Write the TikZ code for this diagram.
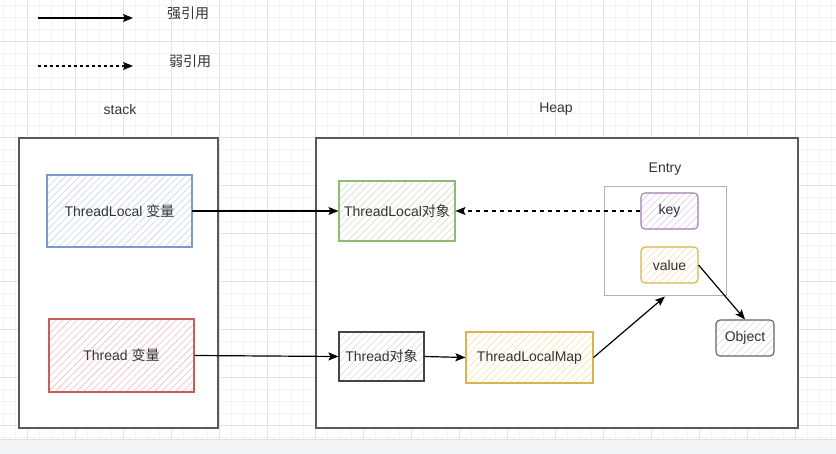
\documentclass[tikz,border=0pt]{standalone}
\usepackage{fontspec}
\setmainfont{Liberation Sans}
\newfontfamily\cjk{Noto Sans CJK SC}
\usepackage{tikz}
\usetikzlibrary{arrows.meta,patterns.meta}
\definecolor{txt}{HTML}{333333}
\definecolor{gridmin}{HTML}{F3F3F3}
\definecolor{gridmaj}{HTML}{E4E4E4}
\definecolor{band}{HTML}{F4F5F7}
\definecolor{bluedge}{HTML}{7A9BCB}
\definecolor{bluhatch}{HTML}{C3D4EF}
\definecolor{rededge}{HTML}{C0605C}
\definecolor{redhatch}{HTML}{F2BDBB}
\definecolor{grnedge}{HTML}{8DBB72}
\definecolor{grnhatch}{HTML}{CFE3C2}
\definecolor{puredge}{HTML}{A07DB0}
\definecolor{purhatch}{HTML}{DCCDE4}
\definecolor{yeledge}{HTML}{D8B44A}
\definecolor{yelhatch}{HTML}{F6E3AE}
\definecolor{gryedge}{HTML}{444444}
\definecolor{gryhatch}{HTML}{DDDDDD}

\begin{document}
\begin{tikzpicture}[x=1pt,y=-1pt,>={Stealth[length=10pt,width=8pt,inset=2pt]},
  every node/.style={font=\fontsize{14}{16}\selectfont,text=txt,inner sep=0pt},
  hatch/.style={pattern={Lines[angle=45,distance=5pt,line width=0.6pt]},pattern color=#1},
  box/.style={draw=#1,line width=1.1pt},
  region/.style={draw=black!65,line width=1.3pt,fill=white},
  link/.style={->,line width=1.2pt,black}]
\useasboundingbox (0,0) rectangle (836,454);
% griglia di sfondo
\foreach \x in {3,15,...,831} \draw[gridmin,line width=0.6pt] (\x,0) -- (\x,439);
\foreach \y in {5,17,...,437} \draw[gridmin,line width=0.6pt] (0,\y) -- (836,\y);
\foreach \x in {27,75,...,795} \draw[gridmaj,line width=0.7pt] (\x,0) -- (\x,439);
\foreach \y in {41,89,...,425} \draw[gridmaj,line width=0.7pt] (0,\y) -- (836,\y);
\fill[band] (0,439) rectangle (836,454);
\draw[black!12,line width=0.8pt] (0,439) -- (836,439);

% legenda
\coordinate (sa) at (38,18);
\coordinate (sb) at (133,18);
\draw[link] (sa) -- (sb);
\node (strong) at (188,13) {\cjk 强引用};
\coordinate (wa) at (38,66);
\coordinate (wb) at (133,66);
\draw[link,dash pattern=on 3pt off 3pt] (wa) -- (wb);
\node (weak) at (190,61) {\cjk 弱引用};

% stack e heap
\node (stacklbl) at (120,109) {stack};
\node (heaplbl) at (556,109) {Heap};
\node[region,minimum width=199,minimum height=290] (stack) at (118.5,283) {};
\node[region,minimum width=482,minimum height=290] (heap) at (557,283) {};

% variabili sullo stack
\node[box=bluedge,hatch=bluhatch,minimum width=145,minimum height=72] (tlvar) at (119.5,211) {ThreadLocal {\cjk 变量}};
\node[box=rededge,hatch=redhatch,minimum width=145,minimum height=73] (thvar) at (121.5,355.5) {Thread {\cjk 变量}};

% oggetti sullo heap
\node[box=grnedge,hatch=grnhatch,minimum width=116,minimum height=60] (tlobj) at (397,211) {ThreadLocal{\cjk 对象}};
\node[box=gryedge,hatch=gryhatch,minimum width=85,minimum height=49] (thobj) at (381.5,356.5) {Thread{\cjk 对象}};
\node[box=yeledge,hatch=yelhatch,minimum width=127,minimum height=51] (tlmap) at (529.5,357.5) {ThreadLocalMap};
\node (entrylbl) at (665,169) {Entry};
\node[draw=black!30,line width=1pt,minimum width=122,minimum height=109] (entry) at (665,241.5) {};
\node[box=puredge,hatch=purhatch,rounded corners=4pt,minimum width=57,minimum height=36] (key) at (669.5,211) {key};
\node[box=yeledge,hatch=yelhatch,rounded corners=4pt,minimum width=57,minimum height=36] (value) at (669.5,265) {value};
\node[box=black!60,hatch=gryhatch,rounded corners=4pt,minimum width=58,minimum height=36] (object) at (745,338) {Object};

% riferimenti
\draw[link] (tlvar.east) -- (tlobj.west);
\draw[link,dash pattern=on 4pt off 4pt] (key.west) -- (tlobj.east);
\draw[link] (thvar.east) -- (thobj.west);
\draw[link] (thobj.east) -- (tlmap.west);
\draw[link] (tlmap.east) -- (entry.south);
\draw[link] (value.east) -- (object.north);
\end{tikzpicture}
\end{document}
